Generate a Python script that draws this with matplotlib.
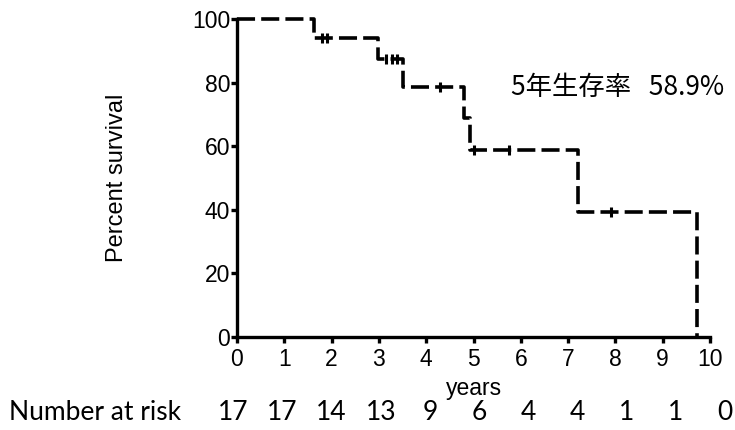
import numpy as np
import matplotlib
matplotlib.use("Agg")
import matplotlib.pyplot as plt

# Kaplan-Meier step curve: event times (years) and survival (%) after each step
step_times = [0.0, 1.63, 2.99, 3.52, 4.80, 4.93, 7.20, 9.72]
step_survival = [100.0, 94.1, 87.4, 78.6, 68.8, 58.9, 39.3, 0.0]

# Censored observations (years)
censor_times = [1.80, 1.90, 3.15, 3.28, 3.38, 4.30, 5.02, 5.74, 7.90]

# Axis ticks and number-at-risk table
x_ticks = list(range(0, 11))
y_ticks = [0, 20, 40, 60, 80, 100]
risk_years = list(range(0, 11))
risk_counts = [17, 17, 14, 13, 9, 6, 4, 4, 1, 1, 0]

five_year_label = "5年生存率"
five_year_value = "58.9%"

fig = plt.figure(figsize=(7.35, 4.30), dpi=100)
ax = fig.add_axes([237 / 735, 1 - 337 / 430, 473 / 735, 318 / 430])

ax.plot(step_times, step_survival, drawstyle="steps-post", color="black",
        lw=2.6, linestyle=(0, (5, 1.7)), clip_on=False, zorder=3)

# censor marks sit on the step level at their time
idx = np.searchsorted(step_times, censor_times, side="right") - 1
censor_levels = [step_survival[i] for i in idx]
ax.plot(censor_times, censor_levels, linestyle="none", marker="|",
        markersize=7, markeredgewidth=2.2, color="black", clip_on=False, zorder=4)

ax.set_xlim(0, 10)
ax.set_ylim(0, 100)
ax.set_xticks(x_ticks)
ax.set_yticks(y_ticks)

for side in ("top", "right"):
    ax.spines[side].set_visible(False)
for side in ("left", "bottom"):
    ax.spines[side].set_linewidth(2.4)

ax.tick_params(axis="both", direction="out", length=4, width=2.4, color="black")
ax.tick_params(axis="x", pad=4)
ax.tick_params(axis="y", pad=1)
for lab in ax.get_xticklabels() + ax.get_yticklabels():
    lab.set_fontfamily("Liberation Sans")
    lab.set_fontsize(16.5)

ax.set_xlabel("years", fontfamily="Liberation Sans", fontsize=16.5, labelpad=4)
ax.set_ylabel("Percent survival", fontfamily="Liberation Sans", fontsize=17,
              labelpad=46)

ax.text(0.580, 0.786, five_year_label + "   " + five_year_value,
        transform=ax.transAxes, fontsize=19,
        family=["Noto Sans CJK JP", "DejaVu Sans"], va="center", ha="left")

# number at risk row under the axis
row_y = 1 - 412 / 430
fig.text(9 / 735, row_y, "Number at risk", fontfamily="Lato", fontsize=19,
         va="center", ha="left")
for yr, n in zip(risk_years, risk_counts):
    xd = yr * 1.04 - 0.08
    xf = fig.transFigure.inverted().transform(ax.transData.transform((xd, 0)))[0]
    fig.text(xf, row_y, str(n), fontfamily="Lato", fontsize=19,
             va="center", ha="center")

fig.savefig("out.png", dpi=100)
